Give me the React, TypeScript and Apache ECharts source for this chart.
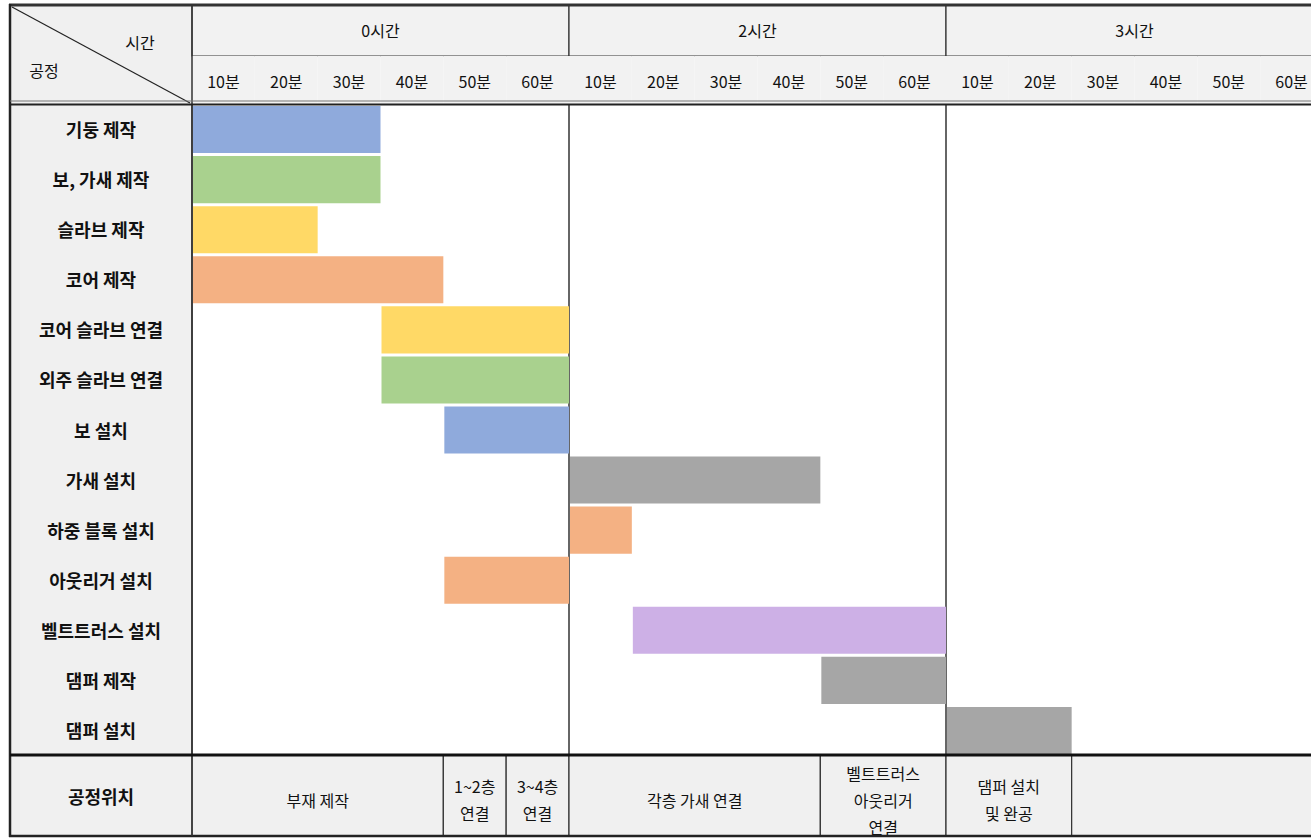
import React, { useEffect, useRef } from "react";
import * as echarts from "echarts";

const processes = [
  "기둥 제작",
  "보, 가새 제작",
  "슬라브 제작",
  "코어 제작",
  "코어 슬라브 연결",
  "외주 슬라브 연결",
  "보 설치",
  "가새 설치",
  "하중 블록 설치",
  "아웃리거 설치",
  "벨트트러스 설치",
  "댐퍼 제작",
  "댐퍼 설치",
];
const startMin = [0, 0, 0, 0, 30, 30, 40, 60, 60, 40, 70, 100, 120];
const endMin = [30, 30, 20, 40, 60, 60, 60, 100, 70, 60, 120, 120, 140];
const barColors = [
  "#8faadc", "#a9d18e", "#ffd966", "#f4b183", "#ffd966", "#a9d18e", "#8faadc",
  "#a6a6a6", "#f4b183", "#f4b183", "#cdb0e6", "#a6a6a6", "#a6a6a6",
];

const hourLabels = ["0시간", "2시간", "3시간"];
const hourStart = [0, 60, 120];
const hourEnd = [60, 120, 180];
const minuteLabels = ["10분", "20분", "30분", "40분", "50분", "60분"];

const locationLabels = [
  "부재 제작",
  "1~2층\n연결",
  "3~4층\n연결",
  "각층 가새 연결",
  "벨트트러스\n아웃리거\n연결",
  "댐퍼 설치\n및 완공",
  "",
];
const locationStart = [0, 40, 50, 60, 100, 120, 140];
const locationEnd = [40, 50, 60, 100, 120, 140, 180];

const FONT = "'Noto Sans CJK KR', 'Noto Sans', sans-serif";
const W = 1323;

export default function App() {
  const ref = useRef<HTMLDivElement>(null);
  useEffect(() => {
    if (!ref.current) return;
    const chart = echarts.init(ref.current, null, { renderer: "svg" });

    const headerData: any[] = [];
    hourLabels.forEach((l, i) => headerData.push({ value: [0, hourStart[i], hourEnd[i], l, 1] }));
    for (let h = 0; h < 3; h++) {
      minuteLabels.forEach((l, j) => {
        const s = hourStart[h] + j * 10;
        headerData.push({ value: [1, s, s + 10, l, 0] });
      });
    }

    const barData = processes.map((p, i) => ({
      value: [i, startMin[i], endMin[i]],
      itemStyle: { color: barColors[i] },
    }));

    const locData = locationLabels.map((l, i) => ({
      value: [0, locationStart[i], locationEnd[i], l],
    }));

    const xBase = (gridIndex: number, split: boolean) => ({
      type: "value",
      gridIndex,
      min: 0,
      max: 180,
      interval: 60,
      axisLabel: { show: false },
      axisLine: { show: false },
      axisTick: { show: false },
      splitLine: { show: split, lineStyle: { color: "#333", width: 1.5 } },
    });

    const rowLabel = {
      align: "center",
      margin: 91,
      fontSize: 18,
      fontWeight: "bold",
      color: "#111",
      fontFamily: FONT,
    };

    chart.setOption({
      animation: false,
      grid: [
        { left: 192, right: 0, top: 5, height: 99 },
        { left: 192, right: 0, top: 104, bottom: 83 },
        { left: 192, right: 0, top: 755, bottom: 2 },
      ],
      xAxis: [xBase(0, false), xBase(1, true), xBase(2, false)],
      yAxis: [
        {
          type: "category",
          gridIndex: 0,
          data: ["h", "m"],
          inverse: true,
          axisLabel: { show: false },
          axisLine: { show: false },
          axisTick: { show: false },
        },
        {
          type: "category",
          gridIndex: 1,
          data: processes,
          inverse: true,
          axisLine: { show: false },
          axisTick: { show: false },
          axisLabel: rowLabel,
        },
        {
          type: "category",
          gridIndex: 2,
          data: ["공정위치"],
          axisLine: { show: false },
          axisTick: { show: false },
          axisLabel: rowLabel,
        },
      ],
      graphic: [
        { type: "rect", z: -10, shape: { x: 10, y: 5, width: 182, height: 831 }, style: { fill: "#f0f0f0" } },
        { type: "line", z: 100, shape: { x1: 12, y1: 7, x2: 190, y2: 103 }, style: { stroke: "#222", lineWidth: 1.2 } },
        { type: "text", z: 100, style: { x: 140, y: 42, text: "시간", align: "center", verticalAlign: "middle", fontSize: 16, fontFamily: FONT, fill: "#111" } },
        { type: "text", z: 100, style: { x: 44, y: 70, text: "공정", align: "center", verticalAlign: "middle", fontSize: 16, fontFamily: FONT, fill: "#111" } },
        { type: "line", z: 100, shape: { x1: 9, y1: 5, x2: W, y2: 5 }, style: { stroke: "#333", lineWidth: 3 } },
        { type: "line", z: 100, shape: { x1: 10, y1: 4, x2: 10, y2: 837 }, style: { stroke: "#222", lineWidth: 2.5 } },
        { type: "line", z: 100, shape: { x1: 9, y1: 836, x2: W, y2: 836 }, style: { stroke: "#222", lineWidth: 2.5 } },
        { type: "line", z: 100, shape: { x1: 192, y1: 5, x2: 192, y2: 836 }, style: { stroke: "#333", lineWidth: 1.5 } },
        { type: "line", z: 100, shape: { x1: 10, y1: 101, x2: W, y2: 101 }, style: { stroke: "#777", lineWidth: 1 } },
        { type: "line", z: 100, shape: { x1: 10, y1: 104.5, x2: W, y2: 104.5 }, style: { stroke: "#222", lineWidth: 2 } },
        { type: "line", z: 100, shape: { x1: 10, y1: 755, x2: W, y2: 755 }, style: { stroke: "#111", lineWidth: 3 } },
      ],
      series: [
        {
          type: "custom",
          xAxisIndex: 0,
          yAxisIndex: 0,
          data: headerData,
          encode: { x: [1, 2], y: 0 },
          renderItem: (params: any, api: any) => {
            const row = api.value(0);
            const s = api.coord([api.value(1), row]);
            const e = api.coord([api.value(2), row]);
            const label = headerData[params.dataIndex].value[3];
            const stroked = headerData[params.dataIndex].value[4] === 1;
            const top = row === 0 ? 5 : 56;
            const bottom = row === 0 ? 56 : 104;
            return {
              type: "group",
              children: [
                {
                  type: "rect",
                  shape: { x: s[0], y: top, width: e[0] - s[0], height: bottom - top },
                  style: { fill: "#f2f2f2", stroke: stroked ? "#333" : null, lineWidth: 1.2 },
                },
                {
                  type: "text",
                  style: {
                    x: (s[0] + e[0]) / 2,
                    y: row === 0 ? 30 : 81,
                    text: label,
                    align: "center",
                    verticalAlign: "middle",
                    fontSize: 16,
                    fontFamily: FONT,
                    fill: "#111",
                  },
                },
              ],
            };
          },
        },
        {
          type: "custom",
          xAxisIndex: 1,
          yAxisIndex: 1,
          data: barData,
          encode: { x: [1, 2], y: 0 },
          renderItem: (params: any, api: any) => {
            const row = api.value(0);
            const s = api.coord([api.value(1), row]);
            const e = api.coord([api.value(2), row]);
            const h = api.size([0, 1])[1];
            return {
              type: "rect",
              shape: { x: s[0] + 1, y: s[1] - h / 2 + 2, width: e[0] - s[0] - 1, height: h - 3 },
              style: { fill: api.visual("color") },
            };
          },
        },
        {
          type: "custom",
          xAxisIndex: 2,
          yAxisIndex: 2,
          data: locData,
          encode: { x: [1, 2], y: 0 },
          renderItem: (params: any, api: any) => {
            const s = api.coord([api.value(1), 0]);
            const e = api.coord([api.value(2), 0]);
            const h = api.size([0, 1])[1];
            const label = locData[params.dataIndex].value[3];
            return {
              type: "group",
              children: [
                {
                  type: "rect",
                  shape: { x: s[0], y: s[1] - h / 2, width: e[0] - s[0], height: h },
                  style: { fill: "#f0f0f0", stroke: "#333", lineWidth: 1.2 },
                },
                {
                  type: "text",
                  style: {
                    x: (s[0] + e[0]) / 2,
                    y: s[1] + 4,
                    text: label,
                    align: "center",
                    verticalAlign: "middle",
                    fontSize: 16,
                    lineHeight: 27,
                    fontFamily: FONT,
                    fill: "#111",
                  },
                },
              ],
            };
          },
        },
      ],
    });
    return () => chart.dispose();
  }, []);
  return (
    <div style={{ position: "fixed", left: 0, top: 0, width: 1311, height: 838, overflow: "hidden", background: "#fff" }}>
      <div ref={ref} style={{ width: W, height: 838 }} />
    </div>
  );
}
